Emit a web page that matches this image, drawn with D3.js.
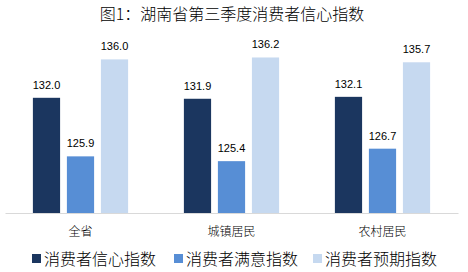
<!DOCTYPE html>
<html>
<head>
<meta charset="utf-8">
<script src="https://cdn.jsdelivr.net/npm/d3@7"></script>
<style>
  body { margin: 0; background: #fff; }
  text { font-family: "Liberation Sans", "Noto Sans CJK SC", sans-serif; }
  .cjk { font-family: "Noto Sans CJK SC", sans-serif; font-weight: 300; }
</style>
</head>
<body>
<div id="chart"></div>
<script>
// categories and the three index series
var categories = ['全省', '城镇居民', '农村居民'];
var series     = ['消费者信心指数', '消费者满意指数', '消费者预期指数'];
var confidence   = [132.0, 131.9, 132.1];
var satisfaction = [125.9, 125.4, 126.7];
var expectation  = [136.0, 136.2, 135.7];
var colors = ['#1b365f', '#578ed5', '#c6d9f0'];

var width  = 468;
var height = 272;
var values = [confidence, satisfaction, expectation];

var svg = d3.select('#chart')
            .append('svg')
            .attr('width', width)
            .attr('height', height);

// title
svg.append('text')
   .attr('class', 'cjk')
   .attr('x', 232)
   .attr('y', 20)
   .attr('text-anchor', 'middle')
   .attr('font-size', 16)
   .attr('fill', '#000')
   .text('图1：湖南省第三季度消费者信心指数');

// scales
var x_scale = d3.scaleBand()
                .domain(categories)
                .range([5, 458]);
var x_sub = d3.scaleBand()
              .domain(series)
              .range([0, x_scale.bandwidth()])
              .paddingInner(0.2)
              .paddingOuter(0.82);
var y_scale = d3.scaleLinear()
                .domain([120, 140])
                .range([213, 21]);

// bars + value labels
series.forEach(function(s, si) {
	var g = svg.append('g');
	g.selectAll('rect')
	 .data(categories)
	 .enter()
	 .append('rect')
	 .attr('x', function(d) { return x_scale(d) + x_sub(s); })
	 .attr('y', function(d, i) { return y_scale(values[si][i]); })
	 .attr('width', x_sub.bandwidth())
	 .attr('height', function(d, i) { return y_scale(120) - y_scale(values[si][i]); })
	 .attr('fill', colors[si]);

	g.selectAll('text')
	 .data(categories)
	 .enter()
	 .append('text')
	 .attr('x', function(d) { return x_scale(d) + x_sub(s) + x_sub.bandwidth() / 2; })
	 .attr('y', function(d, i) { return y_scale(values[si][i]) - 9; })
	 .attr('text-anchor', 'middle')
	 .attr('font-size', 11)
	 .attr('fill', '#000')
	 .text(function(d, i) { return values[si][i].toFixed(1); });
});

// x-axis
var x_axis = d3.axisBottom(x_scale)
               .tickSize(0)
               .tickPadding(14);
var ax = svg.append('g')
            .attr('transform', 'translate(0,' + y_scale(120) + ')')
            .call(x_axis);
ax.select('.domain').attr('stroke', '#d9d9d9');
ax.selectAll('text')
  .attr('class', 'cjk')
  .attr('font-size', 12)
  .attr('fill', '#000');

// legend
var legend_x = [32, 174, 313];
var legend = svg.append('g')
                .selectAll('g')
                .data(series)
                .enter()
                .append('g')
                .attr('transform', function(d, i) { return 'translate(' + legend_x[i] + ',259)'; });
legend.append('rect')
      .attr('x', 0)
      .attr('y', -5)
      .attr('width', 9)
      .attr('height', 9)
      .attr('fill', function(d, i) { return colors[i]; });
legend.append('text')
      .attr('class', 'cjk')
      .attr('x', 12)
      .attr('y', 0)
      .attr('dy', '0.35em')
      .attr('font-size', 16)
      .attr('fill', '#000')
      .text(function(d) { return d; });
</script>
</body>
</html>
